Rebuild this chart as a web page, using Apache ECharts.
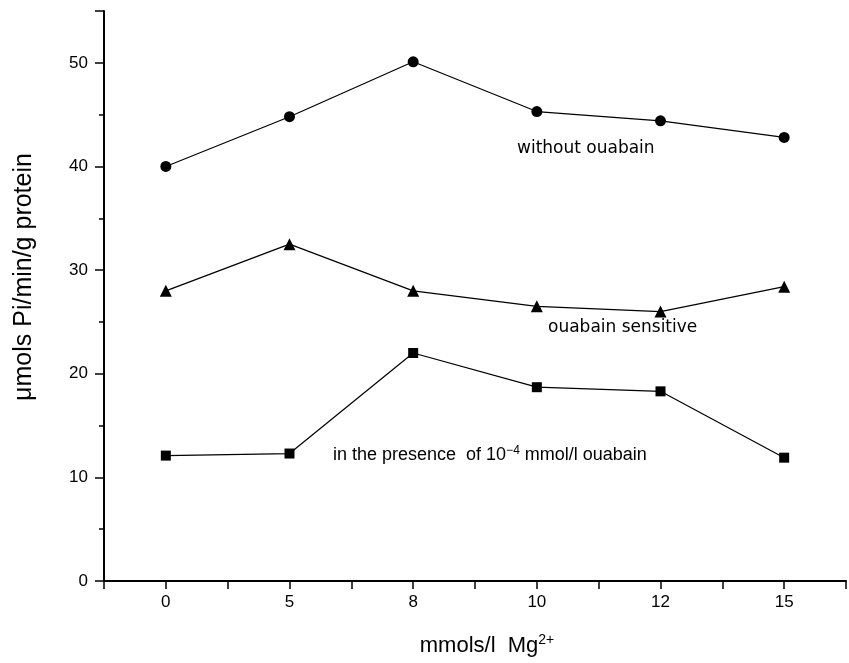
<!DOCTYPE html>
<html>
<head>
<meta charset="utf-8">
<script src="https://cdn.jsdelivr.net/npm/echarts@6/dist/echarts.min.js"></script>
<style>
  html, body { margin: 0; padding: 0; background: #fff; }
  #chart { width: 849px; height: 663px; }
</style>
</head>
<body>
<div id="chart"></div>
<script>
// Mg2+ concentrations (mmol/l), plotted evenly spaced
var xLabels = ['0', '5', '8', '10', '12', '15'];
var withoutOuabain = [40.0, 44.8, 50.1, 45.3, 44.4, 42.8];
var ouabainSensitive = [28.0, 32.5, 28.0, 26.5, 26.0, 28.4];
var withOuabain = [12.1, 12.3, 22.0, 18.7, 18.3, 11.9];
var yTicks = [0, 10, 20, 30, 40, 50];

function pairs(arr) {
    return arr.map(function (v, i) { return [i, v]; });
}

var axisFont = 'Liberation Sans';
var noteFont = 'DejaVu Sans';

var option = {
    backgroundColor: '#fff',
    animation: false,
    grid: { left: 104, right: 3, top: 11, bottom: 82 },
    xAxis: {
        type: 'value',
        min: -0.5,
        max: 5.5,
        interval: 0.5,
        name: '{n|mmols/l  Mg}{s|2+}',
        nameLocation: 'middle',
        nameGap: 52,
        nameTextStyle: {
            padding: [0, 0, 0, 24],
            rich: {
                n: { fontFamily: axisFont, fontSize: 22, color: '#000' },
                s: { fontFamily: axisFont, fontSize: 14, color: '#000', verticalAlign: 'top', padding: [0, 0, 12, 0] }
            }
        },
        axisLine: { onZero: false, lineStyle: { color: '#000', width: 2 } },
        axisTick: { length: 8, lineStyle: { color: '#000', width: 1.5 } },
        axisLabel: {
            margin: 13,
            fontFamily: axisFont,
            fontSize: 17,
            color: '#000',
            formatter: function (v) {
                var i = Math.round(v * 2) / 2;
                return (Number.isInteger(i) && i >= 0 && i < xLabels.length) ? xLabels[i] : '';
            }
        },
        splitLine: { show: false }
    },
    yAxis: {
        type: 'value',
        min: 0,
        max: 55,
        interval: 10,
        name: 'μmols Pi/min/g protein',
        nameLocation: 'middle',
        nameGap: 67,
        nameTextStyle: { fontFamily: axisFont, fontSize: 25, color: '#000', padding: [0, 0, 0, 38] },
        axisLine: { show: true, onZero: false, lineStyle: { color: '#000', width: 2 } },
        axisTick: { show: true, length: 9, lineStyle: { color: '#000', width: 1.5 } },
        minorTick: { show: true, splitNumber: 2, length: 5, lineStyle: { color: '#000', width: 1.5 } },
        axisLabel: {
            margin: 16,
            fontFamily: axisFont,
            fontSize: 17,
            color: '#000',
            showMaxLabel: false,
            formatter: function (v) { return yTicks.indexOf(v) >= 0 ? String(v) : ''; }
        },
        splitLine: { show: false }
    },
    series: [
        {
            name: 'without ouabain',
            type: 'line',
            data: pairs(withoutOuabain),
            symbol: 'circle',
            symbolSize: 11,
            itemStyle: { color: '#000' },
            lineStyle: { color: '#000', width: 1.2 }
        },
        {
            name: 'ouabain sensitive',
            type: 'line',
            data: pairs(ouabainSensitive),
            symbol: 'triangle',
            symbolSize: 12,
            itemStyle: { color: '#000' },
            lineStyle: { color: '#000', width: 1.2 }
        },
        {
            name: 'in the presence of 10-4 mmol/l ouabain',
            type: 'line',
            data: pairs(withOuabain),
            symbol: 'rect',
            symbolSize: 10,
            itemStyle: { color: '#000' },
            lineStyle: { color: '#000', width: 1.2 }
        }
    ],
    graphic: [
        {
            type: 'text', left: 517, top: 140,
            style: { text: 'without ouabain', font: '17px "DejaVu Sans"', fill: '#000' }
        },
        {
            type: 'text', left: 548, top: 319,
            style: { text: 'ouabain sensitive', font: '17px "DejaVu Sans"', fill: '#000' }
        },
        {
            type: 'text', left: 333, top: 445,
            style: {
                text: '{a|in the presence  of 10}{s|−4}{a| mmol/l ouabain}',
                rich: {
                    a: { fontFamily: axisFont, fontSize: 18, fill: '#000' },
                    s: { fontFamily: axisFont, fontSize: 12, fill: '#000', verticalAlign: 'top', padding: [0, 0, 9, 0] }
                }
            }
        }
    ]
};

var chart = echarts.init(document.getElementById('chart'));
chart.setOption(option);
</script>
</body>
</html>
